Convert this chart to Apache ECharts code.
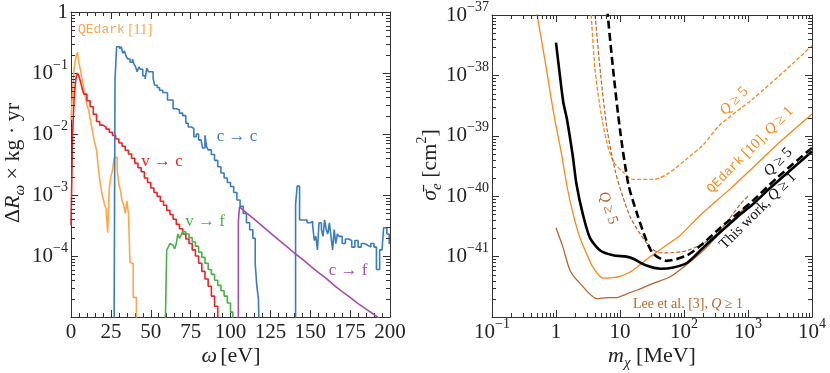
<!DOCTYPE html>
<html>
<head>
<meta charset="utf-8">
<script src="https://cdn.jsdelivr.net/npm/echarts@6/dist/echarts.min.js"></script>
<style>
  html, body { margin: 0; padding: 0; background: #fff; }
  #chart { width: 830px; height: 373px; }
</style>
</head>
<body>
<div id="chart"></div>
<script>
var chart = echarts.init(document.getElementById('chart'));

const SERIF = "Liberation Serif, DejaVu Serif, serif";
const MONO = "Liberation Mono, DejaVu Sans Mono, monospace";

// ---- left panel: rate per bin (bin left edges in eV, rate per kg*yr) ----
const qedarkEdges = [0, 1, 2, 3, 4, 5, 6, 7, 8, 9, 10, 11, 12, 13, 14, 15, 16, 17, 18, 19, 20,
  21, 22, 23, 24, 25, 26, 27, 28, 29, 30, 31, 32, 33, 34, 35, 36, 37, 38, 39, 40, 41];
const qedarkRates = [1.7e-2, 5e-2, 1.2e-1, 1.8e-1, 2.2e-1, 1.45e-1, 1.1e-1, 7.8e-2, 5.5e-2, 4e-2,
  3e-2, 2.5e-2, 1.8e-2, 1.3e-2, 9e-3, 7e-3, 5.5e-3, 3e-3, 1.8e-3, 1.2e-3, 9e-4,
  7e-4, 6e-4, 2.4e-4, 1.3e-3, 2e-3, 2.5e-3, 4e-3, 4.2e-3, 2.5e-3, 1.5e-3,
  1.2e-3, 8e-4, 7e-4, 5e-4, 8e-4, 5e-4, 7.8e-5, 7.5e-5, 2.1e-5, 2.1e-5, 5e-6];

const vcEdges = [0, 1, 2, 3, 4, 5, 6, 7, 8, 10, 12, 14, 16, 18, 20, 22, 24, 26, 28, 30,
  32, 34, 36, 38, 40, 42, 44, 46, 48, 50, 52, 54, 56, 58, 60, 62, 64, 66, 68, 70,
  72, 74, 76, 78, 80, 82, 84, 86, 88, 90, 92];
const vcRates = [3.2e-4, 1.0e-2, 4.0e-2, 7.9e-2, 1.0e-1, 8.9e-2, 7.1e-2, 5.6e-2, 4.5e-2, 3.5e-2,
  2.8e-2, 2.1e-2, 1.6e-2, 1.4e-2, 1.3e-2, 1.2e-2, 1.07e-2, 9.5e-3, 8.3e-3, 7.1e-3,
  6.3e-3, 5.4e-3, 4.7e-3, 4.0e-3, 3.3e-3, 2.8e-3, 2.4e-3, 1.9e-3, 1.6e-3, 1.3e-3,
  1.1e-3, 9.5e-4, 7.9e-4, 6.8e-4, 5.6e-4, 4.8e-4, 4.0e-4, 3.3e-4, 2.8e-4, 2.3e-4,
  1.9e-4, 1.6e-4, 1.26e-4, 1.0e-4, 7.6e-5, 5.6e-5, 4.2e-5, 3.2e-5, 2.2e-5, 1.5e-5, 6e-6];

const ccEdges = [27, 27.6, 28.6, 30.5, 31.5, 32.5, 33.5, 34.5, 35.5, 37, 38.5, 39.5, 40.5, 41.5,
  42.5, 43.5, 45, 46.5, 47.5, 48.5, 50, 51.5, 52.5, 54, 55.5, 57.5, 59, 60.5, 62.5, 64,
  66, 68, 70, 72, 73.5, 75.5, 77, 78.5, 80, 81.5, 82.5, 84, 85, 86, 88, 90, 92, 94, 96,
  98, 100, 102, 104, 106, 108, 110, 112, 114, 115.5, 116.5, 117.5, 118,
  140.8, 141.8, 143.3, 146, 148, 150, 151.5, 152.5, 153.5, 154.5, 155.5, 157, 158, 159,
  160, 161, 162, 163, 164, 165, 166, 167, 168, 170, 172, 174, 176, 178, 180, 182, 184,
  186, 188, 190, 191.5, 193.5, 195, 196, 198, 199.5, 200];
const ccRates = [5e-6, 8e-2, 2.7e-1, 2.5e-1, 2.7e-1, 2.1e-1, 2.3e-1, 1.9e-1, 1.7e-1, 1.5e-1,
  1.7e-1, 1.4e-1, 1.26e-1, 1.05e-1, 1.26e-1, 1.15e-1, 9e-2, 8e-2, 1.2e-1, 1.05e-1,
  1.05e-1, 8e-2, 6.3e-2, 5.8e-2, 5.2e-2, 4.8e-2, 4.7e-2, 3.6e-2, 3.6e-2, 2.6e-2,
  2.5e-2, 2.2e-2, 2.0e-2, 1.5e-2, 1.3e-2, 1.23e-2, 9e-3, 1.0e-2, 8e-3, 7.5e-3,
  5.9e-3, 9.5e-3, 6.2e-3, 5.5e-3, 4.6e-3, 3.7e-3, 2.9e-3, 2.3e-3, 1.9e-3,
  1.6e-3, 1.38e-3, 1.1e-3, 8.3e-4, 6.5e-4, 5e-4, 3.5e-4, 2.7e-4, 1.95e-4, 7.5e-5, 3.2e-5, 2e-5, 5e-6,
  7e-4, 1.4e-3, 3.9e-4, 3.9e-4, 3.5e-4, 3.7e-4, 3.2e-4, 1.8e-4, 2.1e-4, 1.26e-4, 3.5e-4, 2.7e-4, 2.1e-4, 3.9e-4,
  2.7e-4, 2.3e-4, 3.5e-4, 2.1e-4, 1.26e-4, 2.7e-4, 1.6e-4, 2.3e-4, 2.1e-4, 1.6e-4, 1.9e-4, 1.8e-4, 1.4e-4, 1.8e-4, 1.4e-4, 1.6e-4, 1.5e-4,
  1.4e-4, 1.6e-4, 1.4e-4, 6e-5, 1.26e-4, 1.3e-4, 2.9e-4, 2.3e-4, 1.6e-4, 1.6e-4];

const vfEdges = [59, 60, 61, 62, 63, 64, 65, 66, 67, 68, 69, 70, 72, 74, 76, 78, 80, 82, 84, 86,
  88, 90, 92, 94, 96, 98, 100, 101.5];
const vfRates = [5e-6, 1.26e-4, 1.4e-4, 1.6e-4, 1.5e-4, 1.4e-4, 1.3e-4, 1.6e-4, 2.3e-4, 1.95e-4,
  2.2e-4, 2.5e-4, 2.3e-4, 2.0e-4, 1.7e-4, 1.45e-4, 1.15e-4, 9.5e-5, 7.6e-5, 6e-5,
  5e-5, 4e-5, 3.3e-5, 2.7e-5, 2.2e-5, 1.7e-5, 1.2e-5, 5e-6];

const cfOmega = [104.9, 104.9, 105.6, 105.6, 110, 115, 120, 125, 130, 135, 140, 145, 150, 155,
  160, 165, 170, 175, 180, 185, 190, 195, 200];
const cfRates = [5e-6, 3.6e-4, 3.6e-4, 6.4e-4, 5.1e-4, 4.0e-4, 3.1e-4, 2.4e-4, 1.86e-4, 1.45e-4,
  1.12e-4, 8.9e-5, 6.9e-5, 5.4e-5, 4.3e-5, 3.3e-5, 2.6e-5, 2.1e-5, 1.66e-5, 1.35e-5,
  1.1e-5, 8.7e-6, 7e-6];

// ---- right panel: cross-section limits (mass in MeV, sigma in cm^2) ----
const qedarkQ1Mass = [0.5, 0.71, 0.91, 1.2, 1.5, 1.86, 2.37, 3.0, 3.8, 5.4, 7.8, 10, 12.6, 15.8,
  30, 47, 87, 178, 500, 1000, 3160, 10000];
const qedarkQ1Sigma = [1.1e-37, 1.26e-38, 2.5e-39, 5.5e-40, 1.38e-40, 5.0e-41, 2.04e-41, 1.12e-41,
  6.6e-42, 4.4e-42, 4.5e-42, 4.7e-42, 5.2e-42, 5.9e-42, 1.0e-41, 1.41e-41, 2.24e-41, 4.8e-41,
  1.26e-40, 2.5e-40, 7.9e-40, 2.3e-39];

const qedarkQ5Mass = [3.5, 4.07, 5.0, 6.2, 7.9, 11.2, 15.8, 33, 54, 112, 200, 363, 1200, 3980, 10000];
const qedarkQ5Sigma = [1.26e-37, 1.26e-38, 2.5e-39, 7.9e-40, 3.7e-40, 2.5e-40, 1.9e-40, 1.9e-40,
  2.3e-40, 4.2e-40, 7.1e-40, 1.51e-39, 4.1e-39, 1.26e-38, 3.1e-38];

const thisQ1Mass = [1.0, 1.15, 1.3, 1.48, 1.82, 2.09, 2.63, 3.39, 4.9, 7.8, 12.6, 15.8, 26, 43,
  68, 112, 200, 363, 676, 1200, 2190, 10000];
const thisQ1Sigma = [3.5e-38, 1.0e-38, 3.6e-39, 1.9e-39, 4.8e-40, 1.58e-40, 5.0e-41, 2.04e-41,
  1.26e-41, 1.05e-41, 1.0e-41, 9.3e-42, 7.1e-42, 6.3e-42, 6.6e-42, 7.9e-42, 1.41e-41,
  2.5e-41, 4.5e-41, 7.4e-41, 1.35e-40, 5.5e-40];

const thisQ5Mass = [6.3, 7.8, 10, 13.5, 18.6, 26, 33, 54, 112, 200, 363, 1200, 2820, 10000];
const thisQ5Sigma = [1.26e-37, 1.26e-38, 1.26e-39, 1.58e-40, 5.0e-41, 1.82e-41, 1.12e-41, 8.5e-42,
  1.05e-41, 1.66e-41, 2.95e-41, 8.5e-41, 2.0e-40, 6.3e-40];

const leeQ1Mass = [1.0, 1.29, 1.66, 2.37, 4.4, 6.3, 8.9, 12.6, 18.6, 33, 60, 100, 200, 400, 700, 1000];
const leeQ1Sigma = [3.0e-41, 1.41e-41, 5.9e-42, 3.6e-42, 2.0e-42, 2.1e-42, 2.1e-42, 2.4e-42,
  2.8e-42, 3.6e-42, 4.6e-42, 6.8e-42, 1.26e-41, 2.75e-41, 5.0e-41, 7.1e-41];

const leeQ5Mass = [4.0, 5.0, 6.3, 8.5, 11, 14.5, 20, 30, 40, 50, 112, 280, 525, 760, 1000];
const leeQ5Sigma = [1.26e-37, 1.0e-38, 1.26e-39, 2.5e-40, 1.0e-40, 4.5e-41, 2.5e-41, 1.41e-41,
  1.17e-41, 1.15e-41, 1.26e-41, 2.04e-41, 4.4e-41, 7.4e-41, 1.0e-40];

function pairs(xs, ys) {
  return xs.map(function (x, i) { return [x, ys[i]]; });
}
// sigma axis is drawn in decades (exponent), labels show 10^n
function logPairs(xs, ys) {
  return xs.map(function (x, i) { return [x, Math.log10(ys[i])]; });
}

const tickRich = {
  b: { fontFamily: SERIF, fontSize: 21, lineHeight: 30, color: '#222' },
  s: { fontFamily: SERIF, fontSize: 14, lineHeight: 14, verticalAlign: 'top', color: '#222' }
};

function expLabel(e) {
  if (e === 0) return '{b|1}';
  if (e === 1) return '{b|10}';
  return '{b|10}{s|' + (e < 0 ? '\u2212' + (-e) : e) + '}';
}
function logFormatter(v) { return expLabel(Math.round(Math.log10(v))); }
function expFormatter(v) { return expLabel(Math.round(v)); }
function plainFormatter(v) { return '{b|' + v + '}'; }

function axis(o) {
  return {
    type: o.type,
    gridIndex: o.grid,
    position: o.position,
    min: o.min,
    max: o.max,
    interval: o.interval,
    logBase: 10,
    axisLine: { show: true, onZero: false, lineStyle: { color: '#333', width: 1 } },
    axisTick: { show: true, inside: true, length: 7, lineStyle: { color: '#333', width: 1 } },
    minorTick: { show: !!o.minor, splitNumber: o.minor || 5, length: 4, lineStyle: { color: '#333', width: 1 } },
    splitLine: { show: false },
    axisLabel: o.formatter ? {
      show: true, formatter: o.formatter, rich: tickRich, margin: o.margin,
      fontFamily: SERIF, fontSize: 21, color: '#222',
      showMinLabel: o.showMin !== false
    } : { show: false }
  };
}

// minor decade ticks (2..9 per decade), drawn on both opposite edges of a panel
const rateMinor = [];
for (let e = -5; e < 0; e++) {
  for (let k = 2; k <= 9; k++) rateMinor.push([100, k * Math.pow(10, e)]);
}
const massMinor = [];
for (let e = -1; e < 4; e++) {
  for (let k = 2; k <= 9; k++) massMinor.push([k * Math.pow(10, e), -40]);
}
const sigmaMinor = [];
for (let e = -42; e < -37; e++) {
  for (let k = 2; k <= 9; k++) sigmaMinor.push([1, e + Math.log10(k)]);
}

function minorTicks(xi, yi, data, vertical) {
  return {
    name: 'minor ticks', type: 'custom', xAxisIndex: xi, yAxisIndex: yi, silent: true, clip: false,
    data: data, encode: { x: 0, y: 1 }, z: 5,
    renderItem: function (params, api) {
      const cs = params.coordSys;
      const p = api.coord([api.value(0), api.value(1)]);
      const st = { stroke: '#333', lineWidth: 1 };
      if (vertical) {
        const y = Math.round(p[1]) + 0.5;
        return {
          type: 'group', children: [
            { type: 'line', shape: { x1: cs.x, y1: y, x2: cs.x + 4, y2: y }, style: st },
            { type: 'line', shape: { x1: cs.x + cs.width - 4, y1: y, x2: cs.x + cs.width, y2: y }, style: st }
          ]
        };
      }
      const x = Math.round(p[0]) + 0.5;
      return {
        type: 'group', children: [
          { type: 'line', shape: { x1: x, y1: cs.y + cs.height, x2: x, y2: cs.y + cs.height - 4 }, style: st },
          { type: 'line', shape: { x1: x, y1: cs.y, x2: x, y2: cs.y + 4 }, style: st }
        ]
      };
    }
  };
}

function stepLine(name, data, color) {
  return {
    name: name, type: 'line', step: 'end', xAxisIndex: 0, yAxisIndex: 0,
    data: data, showSymbol: false, symbol: 'none', clip: true,
    lineStyle: { color: color, width: 1.6 }
  };
}
function limitLine(name, data, color, width, dash) {
  return {
    name: name, type: 'line', smooth: 0.25, xAxisIndex: 2, yAxisIndex: 2,
    data: data, showSymbol: false, symbol: 'none', clip: true,
    lineStyle: { color: color, width: width, type: dash || 'solid' }
  };
}

function note(x, y, deg, text, color, size, align) {
  return {
    type: 'text', x: x, y: y, rotation: deg * Math.PI / 180, silent: true,
    style: {
      text: text, align: align || 'center', verticalAlign: 'middle',
      rich: {
        n: { fontFamily: SERIF, fontSize: size, fill: color },
        i: { fontFamily: SERIF, fontSize: size, fontStyle: 'italic', fill: color },
        m: { fontFamily: MONO, fontSize: size - 2, fill: color }
      }
    }
  };
}

const titleRich = {
  n: { fontFamily: SERIF, fontSize: 22, fill: '#222', lineHeight: 30 },
  i: { fontFamily: SERIF, fontSize: 22, fontStyle: 'italic', fill: '#222', lineHeight: 30 },
  sub: { fontFamily: SERIF, fontSize: 15, fontStyle: 'italic', fill: '#222', lineHeight: 15, verticalAlign: 'bottom' },
  sup: { fontFamily: SERIF, fontSize: 14, fill: '#222', lineHeight: 14, verticalAlign: 'top' }
};
function title(x, y, deg, text) {
  return {
    type: 'text', x: x, y: y, rotation: deg * Math.PI / 180, silent: true,
    style: { text: text, align: 'center', verticalAlign: 'middle', rich: titleRich }
  };
}

let option = {
  animation: false,
  backgroundColor: '#fff',
  grid: [
    { left: 71, right: 440, top: 12, bottom: 56 },
    { left: 492, right: 18, top: 12, bottom: 56 }
  ],
  xAxis: [
    axis({ type: 'value', grid: 0, position: 'bottom', min: 0, max: 200, interval: 25, minor: 5, formatter: plainFormatter, margin: 0 }),
    axis({ type: 'value', grid: 0, position: 'top', min: 0, max: 200, interval: 25, minor: 5 }),
    axis({ type: 'log', grid: 1, position: 'bottom', min: 0.1, max: 10000, formatter: logFormatter, margin: 0 }),
    axis({ type: 'log', grid: 1, position: 'top', min: 0.1, max: 10000 })
  ],
  yAxis: [
    axis({ type: 'log', grid: 0, position: 'left', min: 1e-5, max: 1, formatter: logFormatter, margin: 3, showMin: false }),
    axis({ type: 'log', grid: 0, position: 'right', min: 1e-5, max: 1 }),
    axis({ type: 'value', grid: 1, position: 'left', min: -42, max: -37, interval: 1, formatter: expFormatter, margin: 3, showMin: false }),
    axis({ type: 'value', grid: 1, position: 'right', min: -42, max: -37, interval: 1 })
  ],
  series: [
    stepLine('QEdark [11]', pairs(qedarkEdges, qedarkRates), '#ffa64d'),
    stepLine('v -> c', pairs(vcEdges, vcRates), '#ee2222'),
    stepLine('v -> f', pairs(vfEdges, vfRates), '#4daf4a'),
    stepLine('c -> c', pairs(ccEdges, ccRates), '#3a7dbf'),
    {
      name: 'c -> f', type: 'line', xAxisIndex: 0, yAxisIndex: 0,
      data: pairs(cfOmega, cfRates), showSymbol: false, symbol: 'none', clip: true,
      lineStyle: { color: '#a24fae', width: 1.6 }
    },
    limitLine('QEdark [10], Q>=5', logPairs(qedarkQ5Mass, qedarkQ5Sigma), '#ff8517', 1.3, [4, 2]),
    limitLine('QEdark [10], Q>=1', logPairs(qedarkQ1Mass, qedarkQ1Sigma), '#ff8517', 1.3),
    limitLine('Lee et al. [3], Q>=5', logPairs(leeQ5Mass, leeQ5Sigma), '#b5652f', 1.2, [4, 2]),
    limitLine('Lee et al. [3], Q>=1', logPairs(leeQ1Mass, leeQ1Sigma), '#b5652f', 1.3),
    limitLine('This work, Q>=5', logPairs(thisQ5Mass, thisQ5Sigma), '#000', 2.6, [8, 4]),
    limitLine('This work, Q>=1', logPairs(thisQ1Mass, thisQ1Sigma), '#000', 2.6),
    minorTicks(0, 0, rateMinor, true),
    minorTicks(2, 2, massMinor, false),
    minorTicks(2, 2, sigmaMinor, true)
  ],
  graphic: [
    title(13, 163, 90, '{n|\u0394}{i|R}{sub|\u03c9}{n| \u00d7 kg \u00b7 yr}'),
    title(231, 356, 0, '{i|\u03c9} {n|[eV]}'),
    title(430, 165, 90, '{i|\u03c3\u0304}{sub|e}{n| [cm}{sup|2}{n|]}'),
    title(652, 356, 0, '{i|m}{sub|\u03c7}{n| [MeV]}'),

    note(78, 30, 0, '{m|QEdark} {n|[11]}', '#ffa64d', 15, 'left'),
    note(162, 162, 0, '{n|v \u2192 c}', '#ee2222', 17),
    note(237, 137, 0, '{n|c \u2192 c}', '#3a7dbf', 17),
    note(205, 222, 0, '{n|v \u2192 f}', '#4daf4a', 17),
    note(348, 271, 0, '{n|c \u2192 f}', '#a24fae', 17),

    note(750, 150, 45, '{m|QEdark} {n|[10],} {i|Q} {n|\u2265 1}', '#ff8517', 15),
    note(734, 101, 45, '{i|Q} {n|\u2265 5}', '#ff8517', 15),
    note(778, 162, 45, '{i|Q} {n|\u2265 5}', '#111', 15),
    note(758, 211, 45, '{n|This work,} {i|Q} {n|\u2265 1}', '#111', 15),
    note(608, 208, -72, '{i|Q} {n|\u2265 5}', '#b5652f', 15),
    note(688, 304, 0, '{n|Lee et al. [3],} {i|Q} {n|\u2265 1}', '#b5652f', 14)
  ]
};

chart.setOption(option);
</script>
</body>
</html>
